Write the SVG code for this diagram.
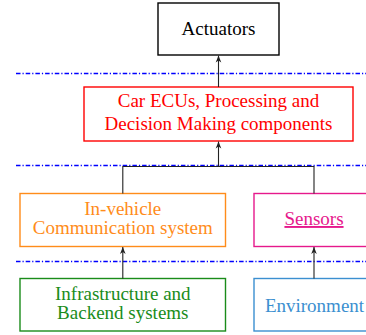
<svg xmlns="http://www.w3.org/2000/svg" width="366" height="335" viewBox="0 0 366 335">
<style>
.lbl{font-family:'Liberation Serif','Times New Roman',Times,serif;font-size:19px;text-anchor:middle}
.box{fill:#ffffff;stroke-width:1.4}
.conn{stroke:#222222;stroke-width:1.1;fill:none}
</style>
<defs>
<marker id="ah" viewBox="0 0 10 10" refX="10" refY="5" markerWidth="7" markerHeight="7" orient="auto" markerUnits="userSpaceOnUse">
<path d="M0,1 L10,5 L0,9 L3,5 Z" fill="#222222"/>
</marker>
</defs>
<g id="separators" fill="none">
<path d="M16,73.5 H366" stroke="blue" stroke-width="1.4" stroke-dasharray="4.5 2 1.2 2"/>
<path d="M16,165.5 H366" stroke="blue" stroke-width="1.4" stroke-dasharray="4.5 2 1.2 2"/>
<path d="M16,261.5 H366" stroke="blue" stroke-width="1.4" stroke-dasharray="4.5 2 1.2 2"/>
</g>
<g font-family="Liberation Serif, Times New Roman, serif" font-size="19" text-anchor="middle">
<g id="actuators">
<rect class="box" x="158" y="3" width="121" height="52" stroke="#000000"/>
<text class="lbl" x="218.5" y="35" fill="#000000">Actuators</text>
</g>
<g id="ecus">
<rect class="box" x="84" y="87" width="269" height="54" stroke="#ff0000"/>
<text class="lbl" x="218.5" y="106.5" fill="#ff0000">Car ECUs, Processing and</text>
<text class="lbl" x="218.5" y="130" fill="#ff0000">Decision Making components</text>
</g>
<g id="invehicle">
<rect class="box" x="20" y="193.5" width="205.5" height="53" stroke="#ff8c1a"/>
<text class="lbl" x="122.8" y="215" fill="#ff8c1a">In-vehicle</text>
<text class="lbl" x="122.8" y="234" fill="#ff8c1a">Communication system</text>
</g>
<g id="sensors">
<rect class="box" x="254" y="193.5" width="120" height="53" stroke="#e6198c"/>
<text class="lbl" x="314" y="225" fill="#e6198c" text-decoration="underline">Sensors</text>
</g>
<g id="infrastructure">
<rect class="box" x="20" y="278.5" width="205.5" height="52.5" stroke="#1a8c1a"/>
<text class="lbl" x="122.8" y="300" fill="#1a8c1a">Infrastructure and</text>
<text class="lbl" x="122.8" y="319" fill="#1a8c1a">Backend systems</text>
</g>
<g id="environment">
<rect class="box" x="254" y="278.5" width="120" height="52.5" stroke="#3b8fd0"/>
<text class="lbl" x="314.5" y="311.5" fill="#3b8fd0">Environment</text>
</g>
</g>
<g id="connectors" stroke="#222222" stroke-width="1.1" fill="none">
<line class="conn" x1="218.5" y1="87" x2="218.5" y2="55.5" marker-end="url(#ah)"/>
<polyline class="conn" points="122.8,193.5 122.8,166.5 314,166.5 314,193.5"/>
<line class="conn" x1="218.5" y1="166.5" x2="218.5" y2="141.5" marker-end="url(#ah)"/>
<line class="conn" x1="122.8" y1="278.5" x2="122.8" y2="247" marker-end="url(#ah)"/>
<line class="conn" x1="314" y1="278.5" x2="314" y2="247" marker-end="url(#ah)"/>
</g>
</svg>
